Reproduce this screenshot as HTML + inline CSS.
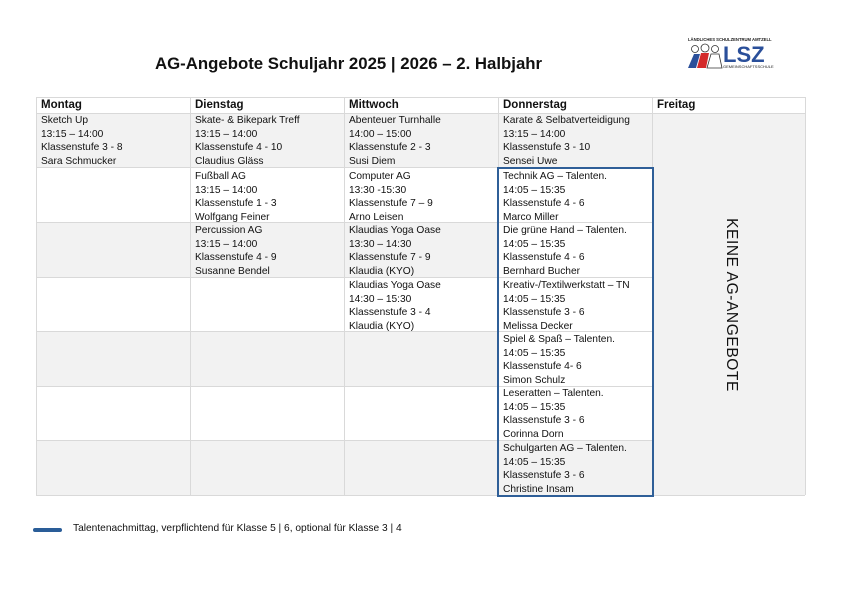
<!DOCTYPE html>
<html><head><meta charset="utf-8"><style>
*{margin:0;padding:0;box-sizing:border-box}
body{width:841px;height:595px;background:#fff;position:relative;overflow:hidden;font-family:"Liberation Sans",sans-serif;color:#111}
.c{position:absolute;font-size:10.2px;line-height:13.6px;padding:1px 0 0 5px;white-space:nowrap;letter-spacing:0}
.g{background:#f2f2f2}
.h{position:absolute;font-size:11.5px;font-weight:bold;top:97px;height:16px;line-height:16px;padding-left:5px}
.vl{position:absolute;width:1px;background:#d9d9d9}
.hl{position:absolute;height:1px;background:#d9d9d9}
</style></head><body>
<div style="position:absolute;left:155px;top:54px;font-size:16.8px;font-weight:bold;white-space:nowrap">AG-Angebote Schuljahr 2025 | 2026 – 2. Halbjahr</div>
<svg style="position:absolute;left:686px;top:36px" width="92" height="34" viewBox="0 0 92 34">
<text x="2" y="5" font-size="4.2" font-family="Liberation Sans" font-weight="bold" fill="#222">LÄNDLICHES SCHULZENTRUM AMTZELL</text>
<circle cx="9" cy="13" r="3.5" fill="#fff" stroke="#333" stroke-width=".8"/><circle cx="19" cy="12" r="4" fill="#fff" stroke="#333" stroke-width=".8"/><circle cx="29" cy="13" r="3.5" fill="#fff" stroke="#333" stroke-width=".8"/>
<path d="M2 32 L8 18 L14 18 L10 32Z" fill="#2a4f9a"/><path d="M11 32 L15 17 L23 17 L20 32Z" fill="#d42a2a"/><path d="M21 32 L25 18 L33 18 L36 32Z" fill="#fff" stroke="#333" stroke-width=".8"/>
<text x="37" y="26" font-size="22" font-weight="bold" font-family="Liberation Sans" fill="#2a4f9a">LSZ</text>
<text x="37" y="32" font-size="4" font-family="Liberation Sans" fill="#222">GEMEINSCHAFTSSCHULE</text>
</svg>

<div class="g" style="position:absolute;left:36px;top:113px;width:769px;height:54px"></div>
<div class="g" style="position:absolute;left:36px;top:222px;width:462px;height:55px"></div>
<div class="g" style="position:absolute;left:36px;top:331px;width:462px;height:55px"></div>
<div class="g" style="position:absolute;left:36px;top:440px;width:616px;height:55px"></div>
<div class="g" style="position:absolute;left:652px;top:113px;width:153px;height:382px"></div>

<div class="hl" style="left:36px;top:97px;width:769px"></div>
<div class="hl" style="left:36px;top:113px;width:769px"></div>
<div class="hl" style="left:36px;top:167px;width:616px"></div>
<div class="hl" style="left:36px;top:222px;width:616px"></div>
<div class="hl" style="left:36px;top:277px;width:616px"></div>
<div class="hl" style="left:36px;top:331px;width:616px"></div>
<div class="hl" style="left:36px;top:386px;width:616px"></div>
<div class="hl" style="left:36px;top:440px;width:616px"></div>
<div class="hl" style="left:36px;top:495px;width:769px"></div>
<div class="vl" style="left:36px;top:97px;height:398px"></div>
<div class="vl" style="left:190px;top:97px;height:398px"></div>
<div class="vl" style="left:344px;top:97px;height:398px"></div>
<div class="vl" style="left:498px;top:97px;height:398px"></div>
<div class="vl" style="left:652px;top:97px;height:398px"></div>
<div class="vl" style="left:805px;top:97px;height:398px"></div>

<div class="h" style="left:36px">Montag</div>
<div class="h" style="left:190px">Dienstag</div>
<div class="h" style="left:344px">Mittwoch</div>
<div class="h" style="left:498px">Donnerstag</div>
<div class="h" style="left:652px">Freitag</div>

<div class="c" style="left:36px;top:113px">Sketch Up<br>13:15 – 14:00<br>Klassenstufe 3 - 8<br>Sara Schmucker</div>
<div class="c" style="left:190px;top:113px">Skate- &amp; Bikepark Treff<br>13:15 – 14:00<br>Klassenstufe 4 - 10<br>Claudius Gläss</div>
<div class="c" style="left:190px;top:169px">Fußball AG<br>13:15 – 14:00<br>Klassenstufe 1 - 3<br>Wolfgang Feiner</div>
<div class="c" style="left:190px;top:223px">Percussion AG<br>13:15 – 14:00<br>Klassenstufe 4 - 9<br>Susanne Bendel</div>
<div class="c" style="left:344px;top:113px">Abenteuer Turnhalle<br>14:00 – 15:00<br>Klassenstufe 2 - 3<br>Susi Diem</div>
<div class="c" style="left:344px;top:169px">Computer AG<br>13:30 -15:30<br>Klassenstufe 7 – 9<br>Arno Leisen</div>
<div class="c" style="left:344px;top:223px">Klaudias Yoga Oase<br>13:30 – 14:30<br>Klassenstufe 7 - 9<br>Klaudia (KYO)</div>
<div class="c" style="left:344px;top:278px">Klaudias Yoga Oase<br>14:30 – 15:30<br>Klassenstufe 3 - 4<br>Klaudia (KYO)</div>
<div class="c" style="left:498px;top:113px">Karate &amp; Selbatverteidigung<br>13:15 – 14:00<br>Klassenstufe 3 - 10<br>Sensei Uwe</div>
<div class="c" style="left:498px;top:169px">Technik AG – Talenten.<br>14:05 – 15:35<br>Klassenstufe 4 - 6<br>Marco Miller</div>
<div class="c" style="left:498px;top:223px">Die grüne Hand – Talenten.<br>14:05 – 15:35<br>Klassenstufe 4 - 6<br>Bernhard Bucher</div>
<div class="c" style="left:498px;top:278px">Kreativ-/Textilwerkstatt – TN<br>14:05 – 15:35<br>Klassenstufe 3 - 6<br>Melissa Decker</div>
<div class="c" style="left:498px;top:332px">Spiel &amp; Spaß – Talenten.<br>14:05 – 15:35<br>Klassenstufe 4- 6<br>Simon Schulz</div>
<div class="c" style="left:498px;top:386px">Leseratten – Talenten.<br>14:05 – 15:35<br>Klassenstufe 3 - 6<br>Corinna Dorn</div>
<div class="c" style="left:498px;top:441px">Schulgarten AG – Talenten.<br>14:05 – 15:35<br>Klassenstufe 3 - 6<br>Christine Insam</div>

<div style="position:absolute;left:497px;top:167px;width:157px;height:330px;border:2px solid #2f5f98"></div>

<div style="position:absolute;left:731px;top:305px;transform:translate(-50%,-50%) rotate(90deg);font-size:15.5px;white-space:nowrap;letter-spacing:0.6px">KEINE AG-ANGEBOTE</div>

<div style="position:absolute;left:33px;top:528px;width:29px;height:4px;border-radius:2px;background:#2a5d98"></div>
<div style="position:absolute;left:73px;top:523px;font-size:10.2px;white-space:nowrap">Talentenachmittag, verpflichtend für Klasse 5 | 6, optional für Klasse 3 | 4</div>
</body></html>
